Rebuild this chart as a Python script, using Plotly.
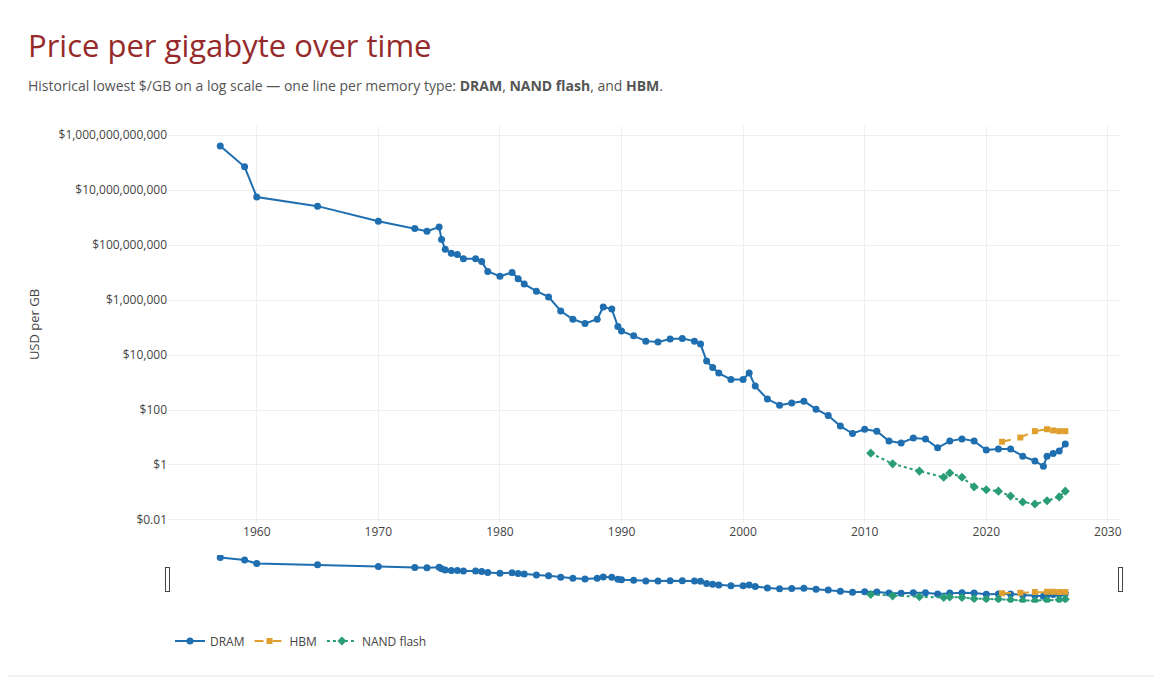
import plotly.graph_objects as go

dram_year = [1957, 1959, 1960, 1965, 1970, 1973, 1974, 1975, 1975.2, 1975.5, 1976, 1976.5, 1977, 1978, 1978.5, 1979, 1980, 1981, 1981.5, 1982, 1983, 1984, 1985, 1986, 1987, 1988, 1988.5, 1989.2, 1989.7, 1990, 1991, 1992, 1993, 1994, 1995, 1996, 1996.5, 1997, 1997.5, 1998, 1999, 2000, 2000.5, 2001, 2002, 2003, 2004, 2005, 2006, 2007, 2008, 2009, 2010, 2011, 2012, 2013, 2014, 2015, 2016, 2017, 2018, 2019, 2020, 2021, 2022, 2023, 2024, 2024.7, 2025, 2025.5, 2026, 2026.5]
dram_price = [4e11, 7e10, 5.6e9, 2.6e9, 7.4e8, 4e8, 3.2e8, 4.5e8, 1.6e8, 7e7, 5e7, 4.5e7, 3.2e7, 3.2e7, 2.5e7, 1.1e7, 7.4e6, 1e7, 6e6, 3.8e6, 2.1e6, 1.3e6, 4e5, 2e5, 1.4e5, 2e5, 5.6e5, 4.7e5, 1.1e5, 7.4e4, 5e4, 3.2e4, 3e4, 3.8e4, 4e4, 3.2e4, 2.5e4, 6e3, 3.5e3, 2.2e3, 1.3e3, 1.3e3, 2.2e3, 740, 250, 150, 180, 210, 107, 63, 26, 14, 20, 17, 7.4, 6.3, 9.5, 8.9, 4.2, 7.4, 8.9, 7.4, 3.5, 3.8, 3.8, 2.1, 1.4, 0.9, 2.1, 2.6, 3.2, 5.8]

hbm_year = [2021.3, 2022.8, 2024, 2025, 2025.5, 2026, 2026.5]
hbm_price = [7, 10, 17, 20, 18, 17, 17]

nand_year = [2010.5, 2012.3, 2014.5, 2016.5, 2017, 2018, 2019, 2020, 2021, 2022, 2023, 2024, 2025, 2026, 2026.5]
nand_price = [2.7, 1.1, 0.6, 0.36, 0.51, 0.36, 0.16, 0.126, 0.112, 0.074, 0.045, 0.038, 0.05, 0.069, 0.112]

tick_vals = [1e12, 1e10, 1e8, 1e6, 1e4, 100, 1, 0.01]
tick_text = ["$1,000,000,000,000", "$10,000,000,000", "$100,000,000", "$1,000,000", "$10,000", "$100", "$1", "$0.01"]

fig = go.Figure()
fig.add_trace(go.Scatter(x=dram_year, y=dram_price, name="DRAM", mode="lines+markers",
                         line=dict(color="#1f6fb0", width=2), marker=dict(size=7, color="#1f6fb0")))
fig.add_trace(go.Scatter(x=hbm_year, y=hbm_price, name="HBM", mode="lines+markers",
                         line=dict(color="#e0a030", width=2, dash="dash"), marker=dict(size=6, symbol="square", color="#e0a030")))
fig.add_trace(go.Scatter(x=nand_year, y=nand_price, name="NAND flash", mode="lines+markers",
                         line=dict(color="#2a9d78", width=2, dash="dot"), marker=dict(size=7, symbol="diamond", color="#2a9d78")))

W, H = 1162, 684
l, r, t, b = 160, 50, 118, 89
pw = W - l - r
ph = 397  # actual plot-area height after the range slider takes its share
bottom = t + ph
def px(x): return (x - l) / pw
def py(y): return (bottom - y) / ph

fig.add_shape(type="rect", xref="paper", yref="paper", x0=px(-2), x1=px(1148), y0=py(668), y1=py(-2),
              line=dict(color="#e2e2e2", width=1), fillcolor="rgba(0,0,0,0)", layer="below")

fig.add_annotation(xref="paper", yref="paper", x=px(18), y=py(37), xanchor="left", yanchor="middle",
                   text="Price per gigabyte over time", showarrow=False,
                   font=dict(family="Open Sans", size=31, color="#962a2a"))
fig.add_annotation(xref="paper", yref="paper", x=px(18), y=py(77), xanchor="left", yanchor="middle",
                   text="Historical lowest $/GB on a log scale — one line per memory type: <b>DRAM</b>, <b>NAND flash</b>, and <b>HBM</b>.",
                   showarrow=False, font=dict(family="Open Sans", size=14, color="#555"))

fig.update_layout(
    width=W, height=H, margin=dict(l=l, r=r, t=t, b=b),
    paper_bgcolor="white", plot_bgcolor="white",
    font=dict(family="Open Sans", size=12, color="#444"),
    xaxis=dict(range=[1952.7, 2031], tickvals=[1960, 1970, 1980, 1990, 2000, 2010, 2020, 2030],
               gridcolor="#eeeeee", showline=False, zeroline=False,
               rangeslider=dict(visible=True, thickness=0.1, bgcolor="white", bordercolor="#fff")),
    yaxis=dict(type="log", range=[-2.11, 12.33], tickvals=tick_vals, ticktext=tick_text,
               gridcolor="#eeeeee", zeroline=False, title=dict(text="USD per GB", font=dict(size=13))),
    legend=dict(orientation="h", x=px(162), y=py(633), xanchor="left", yanchor="middle",
                font=dict(size=12, color="#444")),
    showlegend=True,
)
fig.write_html("out.html")
